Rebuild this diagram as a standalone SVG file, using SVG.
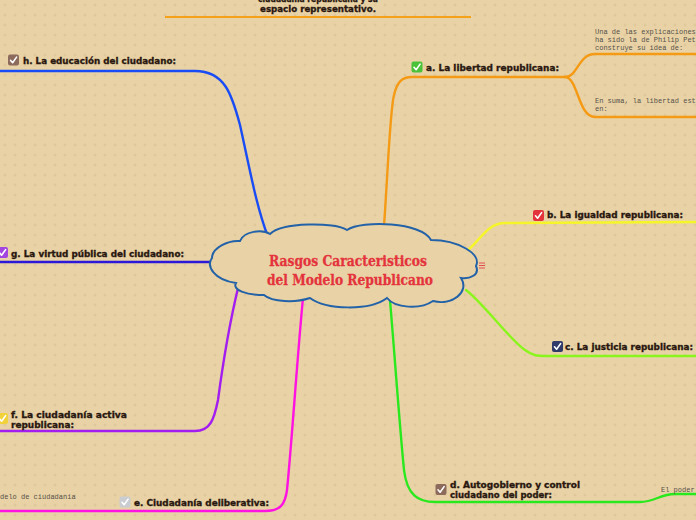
<svg xmlns="http://www.w3.org/2000/svg" width="696" height="520" viewBox="0 0 696 520">
<defs>
<pattern id="dots" width="10" height="10" patternUnits="userSpaceOnUse">
<path d="M5,3.5 V6.5 M3.5,5 H6.5" stroke="#d9c193" stroke-width="0.8"/>
</pattern>
<symbol id="chk" viewBox="0 0 11 11">
<path d="M2.5,5.8 L4.6,8.2 L8.6,2.6" fill="none" stroke="#ffffff" stroke-width="1.6" stroke-linecap="round" stroke-linejoin="round"/>
</symbol>
</defs>
<style>
.bg{fill:#e9d3a6}
.lbl{font-family:"DejaVu Sans","Liberation Sans",sans-serif;font-weight:bold;font-size:9px;fill:#2a1810;stroke:#2a1810;stroke-width:0.35}
.mono{font-family:"Liberation Mono","DejaVu Sans Mono",monospace;font-size:7px;fill:#555048}
.title{font-family:"DejaVu Serif","Liberation Serif",serif;font-weight:bold;font-size:14px;fill:#e4333c;stroke:#e4333c;stroke-width:0.3}
.con{fill:none;stroke-width:2.4;stroke-linecap:round}
.box{stroke:none}
</style>
<rect class="bg" x="0" y="0" width="696" height="520"/>
<rect x="0" y="0" width="696" height="520" fill="url(#dots)"/>

<g id="top-note">
<text class="lbl" x="318" y="2" text-anchor="middle" textLength="120" lengthAdjust="spacingAndGlyphs">ciudadanía republicana y su</text>
<text class="lbl" x="318" y="11.5" text-anchor="middle" textLength="116" lengthAdjust="spacingAndGlyphs">espacio representativo.</text>
<line x1="165" y1="17" x2="471" y2="17" stroke="#f5a21a" stroke-width="2"/>
</g>

<g id="connectors">
<path class="con" stroke="#1a4cf5" d="M0,71 L195,71 C225,71 232,95 240,125 C250,170 256,205 268,237"/>
<path class="con" stroke="#2c18d6" d="M0,262 L213,262"/>
<path class="con" stroke="#a31df0" d="M0,431 L195,431 C210,431 214,420 218,400 C222,370 228,330 238,288"/>
<path class="con" stroke="#ff12e2" d="M0,511 L265,511 C280,511 285,505 287,490 C292,440 297,360 303,298"/>
<path class="con" stroke="#2ae81e" d="M390,300 C395,360 400,430 404,470 C407,495 418,502 435,502 L640,502 C655,502 660,494 675,494 L696,494"/>
<path class="con" stroke="#8af51c" d="M466,290 C485,305 510,340 525,350 C533,356 538,356 545,356 L696,356"/>
<path class="con" stroke="#f5f52a" d="M468,250 C480,240 488,223 505,223 L696,222"/>
<path class="con" stroke="#f59a14" d="M384,226 C388,170 390,110 394,95 C397,82 402,77 412,77 L565,77"/>
<path class="con" stroke="#f59a14" d="M565,77 C578,77 578,54 595,54 L696,54"/>
<path class="con" stroke="#f59a14" d="M565,77 C578,77 578,117 595,117 L696,117"/>
</g>

<g id="central">
<path d="M240,241 C244,231 262,229 270,234 C282,222 335,222 347,230 C362,220 422,222 431,240 C458,240 482,254 476,266 C480,275 470,279 461,278 C470,292 452,306 433,301 C420,310 395,308 387,298 C370,311 326,310 310,298 C295,303 272,302 264,295 C246,295 232,290 236,283 C214,280 206,266 212,258 C212,248 228,240 240,241 Z" fill="#e9d3a6" stroke="#2462a8" stroke-width="2"/>
<text class="title" x="348" y="266" text-anchor="middle" textLength="158" lengthAdjust="spacingAndGlyphs">Rasgos Caracteristicos</text>
<text class="title" x="350" y="285" text-anchor="middle" textLength="166" lengthAdjust="spacingAndGlyphs">del Modelo Republicano</text>
<path d="M479,263 H485 M479,265.5 H485 M479,268 H485" stroke="#e0404a" stroke-width="0.9"/>
</g>

<g id="node-a">
<rect class="box" x="411.5" y="61.5" width="11" height="11" rx="2" fill="#4cc23a"/>
<use href="#chk" x="411.5" y="61.5" width="11" height="11"/>
<text class="lbl" x="426" y="70.5" textLength="133" lengthAdjust="spacingAndGlyphs">a. La libertad republicana:</text>
<text class="mono" x="595" y="34">Una de las explicaciones</text>
<text class="mono" x="595" y="42">ha sido la de Philip Pet</text>
<text class="mono" x="595" y="50">construye su idea de:</text>
<text class="mono" x="595" y="103">En suma, la libertad est</text>
<text class="mono" x="595" y="111">en:</text>
</g>

<g id="node-b">
<rect class="box" x="533" y="210" width="11" height="11" rx="2" fill="#e3343c"/>
<use href="#chk" x="533" y="210" width="11" height="11"/>
<text class="lbl" x="547" y="218" textLength="136" lengthAdjust="spacingAndGlyphs">b. La igualdad republicana:</text>
</g>

<g id="node-c">
<rect class="box" x="552" y="341" width="11" height="11" rx="2" fill="#2f3a6a"/>
<use href="#chk" x="552" y="341" width="11" height="11"/>
<text class="lbl" x="565" y="350" textLength="128" lengthAdjust="spacingAndGlyphs">c. La justicia republicana:</text>
</g>

<g id="node-d">
<rect class="box" x="435.5" y="484" width="11" height="11" rx="2" fill="#8c6a5c"/>
<use href="#chk" x="435.5" y="484" width="11" height="11"/>
<text class="lbl" x="450" y="488" textLength="130" lengthAdjust="spacingAndGlyphs">d. Autogobierno y control</text>
<text class="lbl" x="450" y="498" textLength="102" lengthAdjust="spacingAndGlyphs">ciudadano del poder:</text>
<text class="mono" x="661" y="492">El poder</text>
</g>

<g id="node-e">
<rect class="box" x="119.5" y="496.5" width="11" height="11" rx="2" fill="#c9ccd0"/>
<use href="#chk" x="119.5" y="496.5" width="11" height="11"/>
<text class="lbl" x="134" y="505.5" textLength="135" lengthAdjust="spacingAndGlyphs">e. Ciudadanía deliberativa:</text>
<text class="mono" x="0" y="499">delo de ciudadania</text>
</g>

<g id="node-f">
<rect class="box" x="-3" y="413" width="11" height="11" rx="2" fill="#f2d23a"/>
<use href="#chk" x="-3" y="413" width="11" height="11"/>
<text class="lbl" x="11" y="417.5" textLength="116" lengthAdjust="spacingAndGlyphs">f. La ciudadanía activa</text>
<text class="lbl" x="11" y="427.5" textLength="63" lengthAdjust="spacingAndGlyphs">republicana:</text>
</g>

<g id="node-g">
<rect class="box" x="-3" y="247" width="11" height="11" rx="2" fill="#a245e0"/>
<use href="#chk" x="-3" y="247" width="11" height="11"/>
<text class="lbl" x="11" y="256.5" textLength="173" lengthAdjust="spacingAndGlyphs">g. La virtud pública del ciudadano:</text>
</g>

<g id="node-h">
<rect class="box" x="8" y="54.5" width="11" height="11" rx="2" fill="#8c6a5c"/>
<use href="#chk" x="8" y="54.5" width="11" height="11"/>
<text class="lbl" x="23" y="64" textLength="153" lengthAdjust="spacingAndGlyphs">h. La educación del ciudadano:</text>
</g>
</svg>
